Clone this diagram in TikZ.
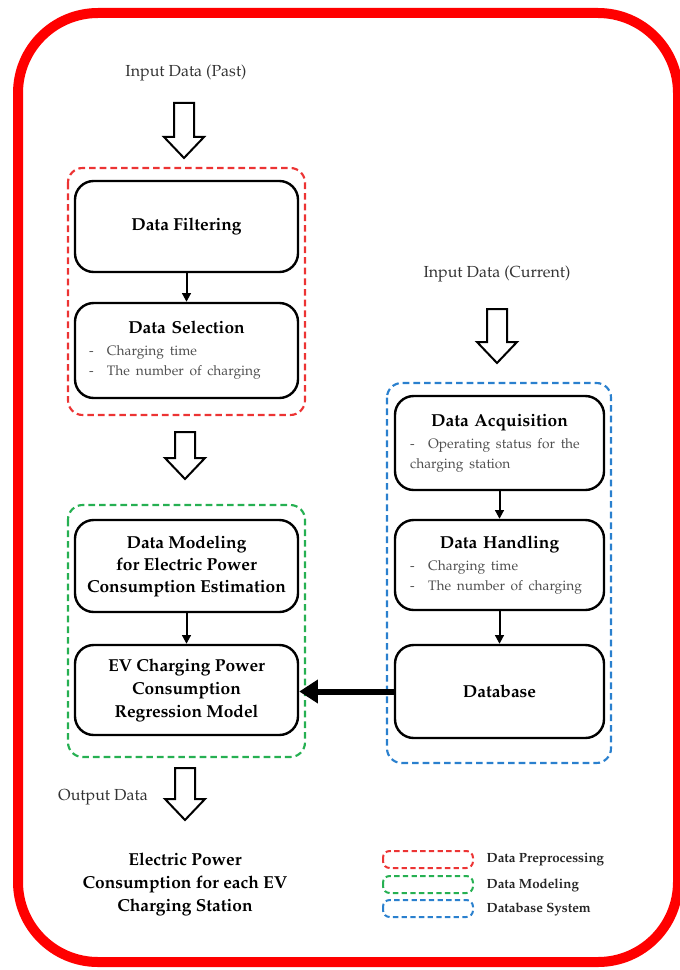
\documentclass[tikz,border=0pt]{standalone}
\usepackage[T1]{fontenc}
\usepackage{mathpazo}
\usepackage{tikz}
\usetikzlibrary{arrows.meta}

\definecolor{grpred}{RGB}{236,52,52}
\definecolor{grpgreen}{RGB}{38,176,82}
\definecolor{grpblue}{RGB}{42,128,206}
\definecolor{bulletgray}{RGB}{80,80,80}

\tikzset{
  stepbox/.style={draw, line width=1.8pt, rounded corners=14pt, inner sep=0pt,
    align=center, font=\fontsize{13}{16.5}\selectfont\bfseries},
  leftbox/.style={stepbox, minimum width=167.25pt},
  rightbox/.style={stepbox, minimum width=156.75pt},
  group/.style={line width=1.6pt, dash pattern=on 5pt off 3pt, rounded corners=11pt},
  legbox/.style={line width=1.5pt, dash pattern=on 4pt off 2.5pt, rounded corners=5pt},
  hollow/.style={draw=black, fill=white, line width=1.5pt, miter limit=4},
  link/.style={draw, line width=1.5pt, -{Triangle[length=6.5pt,width=6.5pt]}},
  bigfeed/.style={draw, line width=4.5pt, -{Triangle[length=14pt,width=17pt]}}
}

% title and bullet lines inside a box
\newcommand{\boxtitle}[1]{{\centering\bfseries #1\par}\vspace{1.5pt}}
\newcommand{\boxitem}[1]{{\noindent\fontsize{10.3}{15}\selectfont\mdseries\color{bulletgray}%
  \hyphenpenalty=10000\hangindent=13.5pt\hangafter=1\makebox[13.5pt][l]{-}#1\par}}
% block arrow pointing down: x, top, tip
\newcommand{\hollowdown}[3]{%
  \draw[hollow] (#1-10,#2) -- (#1+10,#2) -- (#1+10,#3-21) -- (#1+20,#3-21)
    -- (#1,#3) -- (#1-20,#3-21) -- (#1-10,#3-21) -- cycle;}

\begin{document}
\begin{tikzpicture}[x=0.75pt, y=-0.75pt, every node/.style={font=\fontsize{12}{15}\selectfont, text=black!80}]
  \useasboundingbox (0,0) rectangle (679,970);
  \draw[red, line width=7.5pt, rounded corners=60pt] (18,13) rectangle (678,962);

  % dashed groups
  \draw[group, grpred] (68,168) rectangle (305,415);
  \draw[group, grpgreen] (68,505) rectangle (305,757);
  \draw[group, grpblue] (387,383) rectangle (611,763);

  % left column
  \node (inpast) at (186,73) {Input Data (Past)};
  \hollowdown{184}{103}{158}
  \node[leftbox, minimum height=68.25pt, text=black] (filter) at (186.5,226.5) {Data Filtering};
  \node[leftbox, minimum height=71.25pt, text=black, text width=146.25pt, align=left] (select) at (186.5,350.5)
    {\boxtitle{Data Selection}\boxitem{Charging time}\boxitem{The number of charging}};
  \hollowdown{185}{432}{479}
  \node[leftbox, minimum height=69pt, text=black] (model) at (186.5,566)
    {Data Modeling\\for Electric Power\\Consumption Estimation};
  \node[leftbox, minimum height=67.5pt, text=black, font=\fontsize{13}{17.25}\selectfont\bfseries] (regress) at (186.5,690)
    {EV Charging Power\\Consumption\\Regression Model};
  \node (outlbl) at (103,797) {Output Data};
  \hollowdown{185}{768}{820}
  \node[font=\fontsize{13}{17.25}\selectfont\bfseries, text=black, align=center] (result) at (185,884)
    {Electric Power\\Consumption for each EV\\Charging Station};

  % right column
  \node (incur) at (497,274) {Input Data (Current)};
  \hollowdown{497}{309}{363}
  \node[rightbox, minimum height=70.5pt, text=black, text width=134pt, align=left] (acquire) at (499.5,443)
    {\boxtitle{Data Acquisition}\boxitem{Operating status for the\\charging station}};
  \node[rightbox, minimum height=67.5pt, text=black, text width=134pt, align=left] (handle) at (499.5,565)
    {\boxtitle{Data Handling}\boxitem{Charging time}\boxitem{The number of charging}};
  \node[rightbox, minimum height=69.75pt, text=black] (dbase) at (499.5,691.5) {Database};

  \draw[link] (filter) -- (select);
  \draw[link] (model) -- (regress);
  \draw[link] (acquire) -- (handle);
  \draw[link] (handle) -- (dbase);
  \draw[bigfeed] (dbase.west) -- (dbase.west -| regress.east);

  % legend
  \foreach \col/\yy/\txt in {grpred/851/Data Preprocessing, grpgreen/876/Data Modeling, grpblue/900/Database System} {
    \draw[legbox, \col] (383,\yy) rectangle (473,\yy+17);
    \node[anchor=west, font=\fontsize{10}{12}\selectfont\bfseries, text=black!85] (leg-\col) at (482,\yy+9) {\txt};
  }
\end{tikzpicture}
\end{document}
